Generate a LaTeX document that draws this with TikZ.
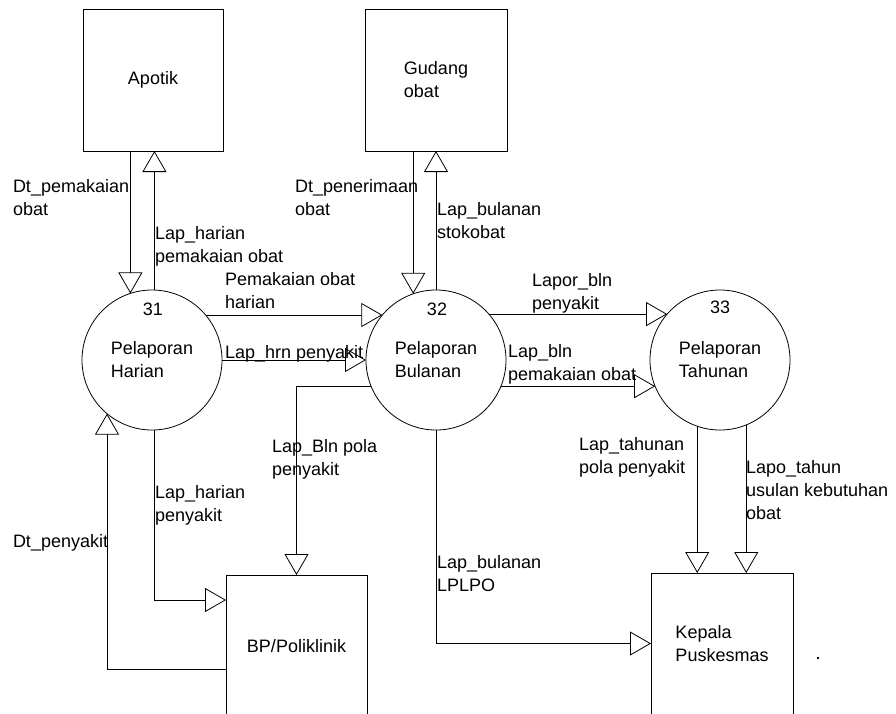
\documentclass[tikz,border=0pt]{standalone}
\usepackage{fontspec}
\setmainfont{Liberation Sans}
\usetikzlibrary{arrows.meta}
\begin{document}
\begin{tikzpicture}[x=1pt,y=-1pt,
  every node/.style={font=\fontsize{18}{23}\selectfont, inner sep=0pt, outer sep=0pt},
  entity/.style={draw, line width=0.8pt, rectangle, align=left},
  proc/.style={draw, line width=0.8pt, circle, minimum size=140pt, align=left},
  flow/.style={line width=0.8pt, -{Triangle[open, length=21pt, width=24pt]}},
  lbl/.style={anchor=base west, align=left},
  num/.style={anchor=base}]
\fill[white] (0,0) rectangle (896,713);
\useasboundingbox (0,0) rectangle (896,713);

% external entities
\node[entity, minimum width=140pt, minimum height=142pt] (apotik) at (153,80) {Apotik};
\node[entity, minimum width=142pt, minimum height=142pt] (gudang) at (436,80) {Gudang\\obat};
\node[entity, minimum width=141pt, minimum height=142pt] (bp) at (296.5,646) {BP/Poliklinik};
\node[entity, minimum width=142pt, minimum height=141pt] (kepala) at (722,643.5) {Kepala\\Puskesmas};

% processes
\node[proc] (c31) at (152,360) {Pelaporan\\Harian};
\node[proc] (c32) at (436,360) {Pelaporan\\Bulanan};
\node[proc] (c33) at (720,360) {Pelaporan\\Tahunan};
\node[num] (n31) at (153,315) {31};
\node[num] (n32) at (437,315) {32};
\node[num] (n33) at (720,313) {33};

% flows
\draw[flow] (apotik.south -| c31.108) -- (c31.108);
\draw[flow] (c31.88) -- (c31.88 |- apotik.south);
\draw[flow] (gudang.south -| c32.109) -- (c32.109);
\draw[flow] (c32.north) -- (c32.north |- gudang.south);
\draw[flow] (c31.40) -- (c32.140);
\draw[flow] (c31.east) -- (c32.west);
\draw[flow] (c32.41) -- (c33.139);
\draw[flow] (c32.338) -- (c33.202);
\draw[flow] (c32.202) -| (bp.north);
\draw[flow] (c31.272) |- ([yshift=-25pt]bp.north west);
\draw[flow] ([yshift=-94pt]bp.north west) -| (c31.230);
\draw[flow] (c32.south) |- (kepala.west);
\draw[flow] (c33.251) -- (c33.251 |- kepala.north);
\draw[flow] (c33.292) -- (c33.292 |- kepala.north);

% labels (base = baseline of last line)
\node[lbl] (l1) at (13,215) {Dt\_pemakaian\\obat};
\node[lbl] (l2) at (155,262) {Lap\_harian\\pemakaian obat};
\node[lbl] (l3) at (225,308) {Pemakaian obat\\harian};
\node[lbl] (l4) at (295,215) {Dt\_penerimaan\\obat};
\node[lbl] (l5) at (437,238) {Lap\_bulanan\\stokobat};
\node[lbl] (l6) at (532,309) {Lapor\_bln\\penyakit};
\node[lbl] (l7) at (225,358) {Lap\_hrn penyakit};
\node[lbl] (l8) at (508,380) {Lap\_bln\\pemakaian obat};
\node[lbl] (l9) at (272,475) {Lap\_Bln pola\\penyakit};
\node[lbl] (l10) at (155,521) {Lap\_harian\\penyakit};
\node[lbl] (l11) at (13,547) {Dt\_penyakit};
\node[lbl] (l12) at (437,591) {Lap\_bulanan\\LPLPO};
\node[lbl] (l13) at (579,473) {Lap\_tahunan\\pola penyakit};
\node[lbl] (l14) at (746,519) {Lapo\_tahun\\usulan kebutuhan\\obat};

\fill (818,658) circle (1.3pt);
\end{tikzpicture}
\end{document}
